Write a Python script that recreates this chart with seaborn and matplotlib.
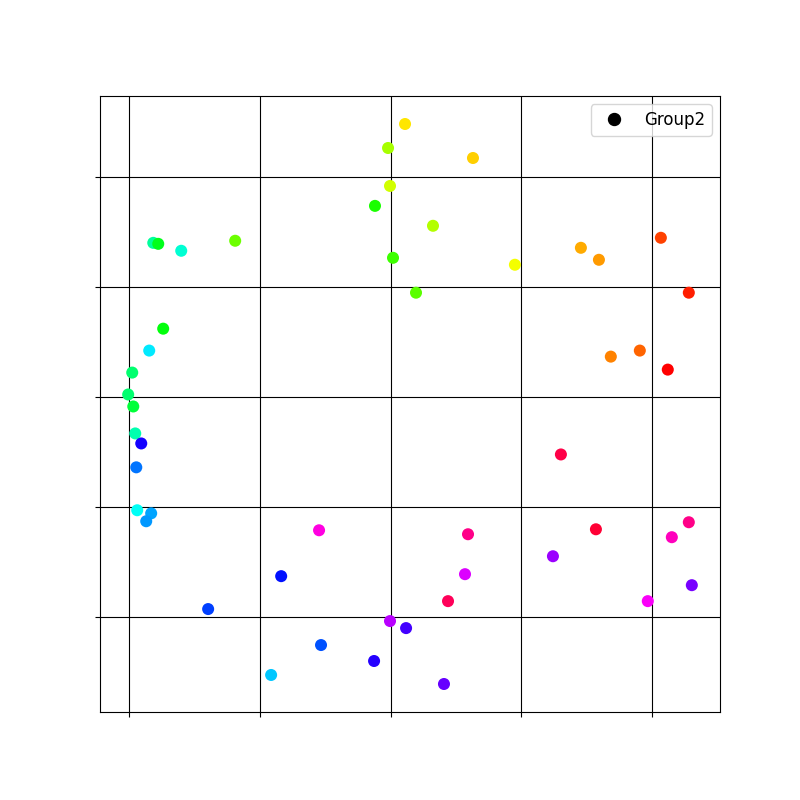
import numpy as np
import pandas as pd
import seaborn as sns
import matplotlib
matplotlib.use("Agg")
import matplotlib.pyplot as plt
from matplotlib.lines import Line2D

# values
x = [2.111, 1.981, 2.631, 1.996, 1.881, 2.325, 0.184, 0.222, 0.398, 0.811,
     2.019, 2.952, 3.457, 3.595, 4.069, 4.283, 2.195, 0.260, 0.153, 0.023,
     -0.008, 0.031, 0.046, 0.092, 0.054, 3.686, 3.908, 4.122, 3.304, 0.061,
     0.168, 0.130, 1.453, 2.593, 3.572, 4.283, 3.243, 4.153, 2.570, 1.163,
     0.604, 2.440, 3.969, 4.306, 1.996, 2.119, 1.468, 1.874, 1.086, 2.409]
y = [4.481, 4.263, 4.172, 3.918, 3.737, 3.556, 3.401, 3.392, 3.329, 3.420,
     3.265, 3.202, 3.356, 3.247, 3.447, 2.948, 2.948, 2.621, 2.422, 2.222,
     2.023, 1.914, 1.669, 1.578, 1.361, 2.367, 2.422, 2.249, 1.478, 0.971,
     0.943, 0.871, 0.789, 0.753, 0.798, 0.862, 0.553, 0.726, 0.390, 0.372,
     0.073, 0.145, 0.145, 0.290, -0.036, -0.100, -0.254, -0.399, -0.526, -0.608]
hue = [0.155, 0.228, 0.140, 0.200, 0.322, 0.222, 0.444, 0.356, 0.478, 0.267,
       0.300, 0.178, 0.115, 0.105, 0.044, 0.022, 0.278, 0.344, 0.522, 0.411,
       0.411, 0.378, 0.456, 0.689, 0.600, 0.089, 0.067, 0.000, 0.967, 0.500,
       0.567, 0.578, 0.867, 0.922, 0.978, 0.922, 0.778, 0.889, 0.822, 0.667,
       0.633, 0.956, 0.844, 0.756, 0.800, 0.722, 0.622, 0.700, 0.544, 0.744]

df = pd.DataFrame({"x": x, "y": y, "hue": hue})

fig, ax = plt.subplots(figsize=(8, 8), dpi=100)
sns.scatterplot(data=df, x="x", y="y", hue="hue", palette="hsv",
                hue_norm=(0, 1), s=75, linewidth=0, legend=False, ax=ax)

ax.grid(True, color="black", linewidth=0.8)
ax.set_axisbelow(True)
ax.set_xticks([0, 1, 2, 3, 4])
ax.set_yticks([0, 1, 2, 3, 4])
ax.set_xticklabels([])
ax.set_yticklabels([])
ax.set_xlabel("")
ax.set_ylabel("")

handle = Line2D([], [], marker="o", linestyle="", color="black", markersize=8.6)
ax.legend([handle], ["Group2"], loc="upper right", fontsize=12)

fig.savefig("out.png", dpi=100)
